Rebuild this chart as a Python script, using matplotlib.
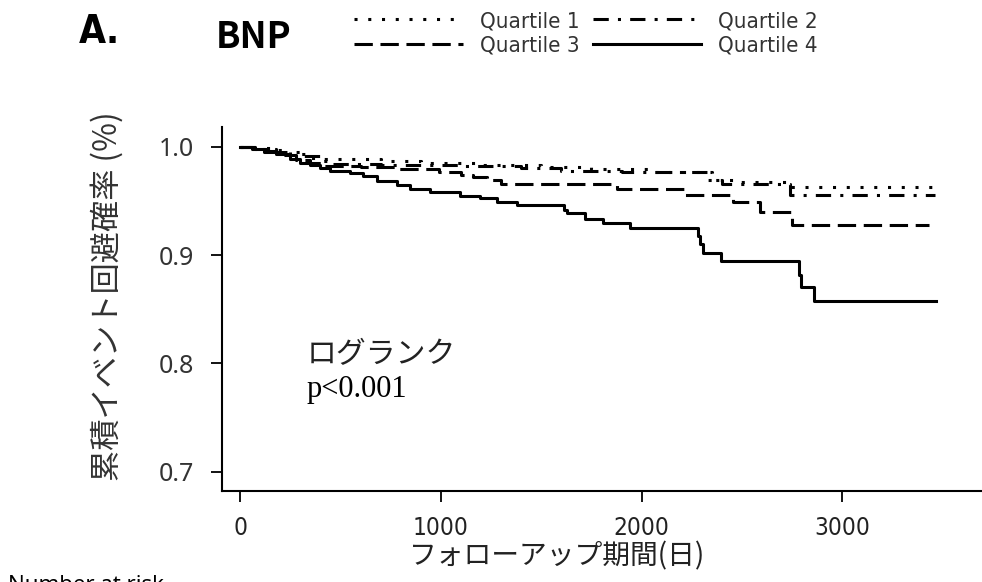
import matplotlib
matplotlib.use("Agg")
import matplotlib.pyplot as plt
from matplotlib import font_manager as fm

names = {f.name for f in fm.fontManager.ttflist}
cond = [f for f in fm.fontManager.ttflist
        if f.name == "DejaVu Sans" and str(f.stretch) in ("condensed", "semi-condensed", "600", "semicondensed")]
if "Liberation Sans Narrow" in names:
    NARROW = dict(family="Liberation Sans Narrow")
elif cond:
    NARROW = dict(family="DejaVu Sans", stretch="condensed")
else:
    NARROW = dict(family="Liberation Sans")
CJK = ["Noto Sans CJK JP", "DejaVu Sans"]

# ---- data ----
q1_t = [0, 60, 150, 250, 350, 420, 700, 900, 1200, 1500, 1750, 2050, 2350, 2480, 2740, 3460]
q1_s = [1.0, 0.999, 0.997, 0.993, 0.990, 0.989, 0.987, 0.985, 0.983, 0.981, 0.979, 0.977, 0.969, 0.967, 0.9625, 0.9625]

q2_t = [0, 80, 180, 300, 400, 450, 700, 1100, 1400, 1600, 1900, 2330, 2400, 2740, 3460]
q2_s = [1.0, 0.998, 0.995, 0.991, 0.987, 0.984, 0.983, 0.982, 0.980, 0.978, 0.977, 0.969, 0.966, 0.9554, 0.9554]

q3_t = [0, 60, 120, 200, 280, 350, 420, 600, 780, 990, 1100, 1160, 1230, 1300, 1877, 2210, 2455, 2590, 2750, 3430]
q3_s = [1.0, 0.998, 0.995, 0.992, 0.988, 0.985, 0.982, 0.981, 0.979, 0.977, 0.974, 0.972, 0.969, 0.966, 0.961, 0.9554, 0.949, 0.940, 0.9275, 0.9275]

q4_t = [0, 75, 134, 180, 249, 300, 349, 400, 448, 548, 613, 682, 782, 847, 946, 1096, 1195, 1280, 1380,
        1614, 1628, 1718, 1808, 1942, 2281, 2292, 2305, 2395, 2784, 2792, 2859, 3466]
q4_s = [1.0, 0.998, 0.996, 0.993, 0.989, 0.985, 0.983, 0.980, 0.978, 0.976, 0.973, 0.968, 0.9646, 0.9607, 0.958,
        0.9548, 0.9526, 0.9492, 0.9462, 0.9416, 0.9388, 0.9332, 0.9293, 0.9247, 0.918, 0.910, 0.9018, 0.8945,
        0.882, 0.8705, 0.8578, 0.8578]

labels = ["Quartile 1", "Quartile 2", "Quartile 3", "Quartile 4"]
x_ticks = [0, 1000, 2000, 3000]
y_ticks = [0.7, 0.8, 0.9, 1.0]

# ---- figure ----
fig = plt.figure(figsize=(9.82, 5.82), dpi=100)
ax = fig.add_axes([222 / 982, 1 - 491 / 582, 1 - 222 / 982, (491 - 127) / 582])

lw = 2.2
l1, = ax.step(q1_t, q1_s, where="post", color="black", lw=lw, linestyle=(0, (1, 3.5)))
l2, = ax.step(q2_t, q2_s, where="post", color="black", lw=lw, linestyle=(0, (5, 3, 1, 3)))
l3, = ax.step(q3_t, q3_s, where="post", color="black", lw=lw, linestyle=(0, (6, 2.5)))
l4, = ax.step(q4_t, q4_s, where="post", color="black", lw=lw, linestyle="-")

ax.set_xlim(-90, 3695)
ax.set_ylim(0.6821, 1.0182)
for s in ["top", "right"]:
    ax.spines[s].set_visible(False)
for s in ["left", "bottom"]:
    ax.spines[s].set_linewidth(1.5)

ax.set_xticks(x_ticks)
ax.set_xticklabels([str(v) for v in x_ticks], fontsize=17.5, color="#222222", **NARROW)
ax.set_yticks(y_ticks)
ax.set_yticklabels([f"{v:.1f}" for v in y_ticks], fontfamily="Noto Sans", fontsize=18, color="#333333")
ax.tick_params(axis="both", direction="out", length=8, width=1.3)
ax.tick_params(axis="y", pad=12)
ax.tick_params(axis="x", pad=10)

fig.text(107 / 982, 1 - 296 / 582, "累積イベント回避確率 (%)", rotation=90, ha="center", va="center",
         fontfamily=CJK, fontsize=22.5, color="#333333")
fig.text(557 / 982, 1 - 556 / 582, "フォローアップ期間(日)", ha="center", va="center",
         fontfamily=CJK, fontsize=20, color="#222222")

fig.text(307 / 982, 1 - 355 / 582, "ログランク", ha="left", va="center",
         fontfamily=CJK, fontsize=21.5, color="#222222")
fig.text(307 / 982, 1 - 389 / 582, "p<0.001", ha="left", va="center",
         fontfamily="Liberation Serif", fontsize=22, color="black")

fig.text(79 / 982, 1 - 32 / 582, "A.", ha="left", va="center", fontweight="bold", fontsize=28, **NARROW)
fig.text(216 / 982, 1 - 37 / 582, "BNP", ha="left", va="center", fontfamily=CJK,
         fontweight="bold", fontsize=26)
fig.text(8 / 982, 1 - 575 / 582, "Number at risk", ha="left", va="top", fontfamily="Noto Sans",
         fontsize=16)

fig.legend([l1, l3, l2, l4], [labels[0], labels[2], labels[1], labels[3]], ncol=2,
           loc="upper left", bbox_to_anchor=(354 / 982, 1 - 11 / 582), frameon=False,
           prop=dict(size=16, **NARROW), handlelength=4.9, handletextpad=0.75,
           columnspacing=0.6, labelspacing=0.2, borderaxespad=0, borderpad=0,
           labelcolor="#333333")

fig.savefig("out.png", dpi=100)
